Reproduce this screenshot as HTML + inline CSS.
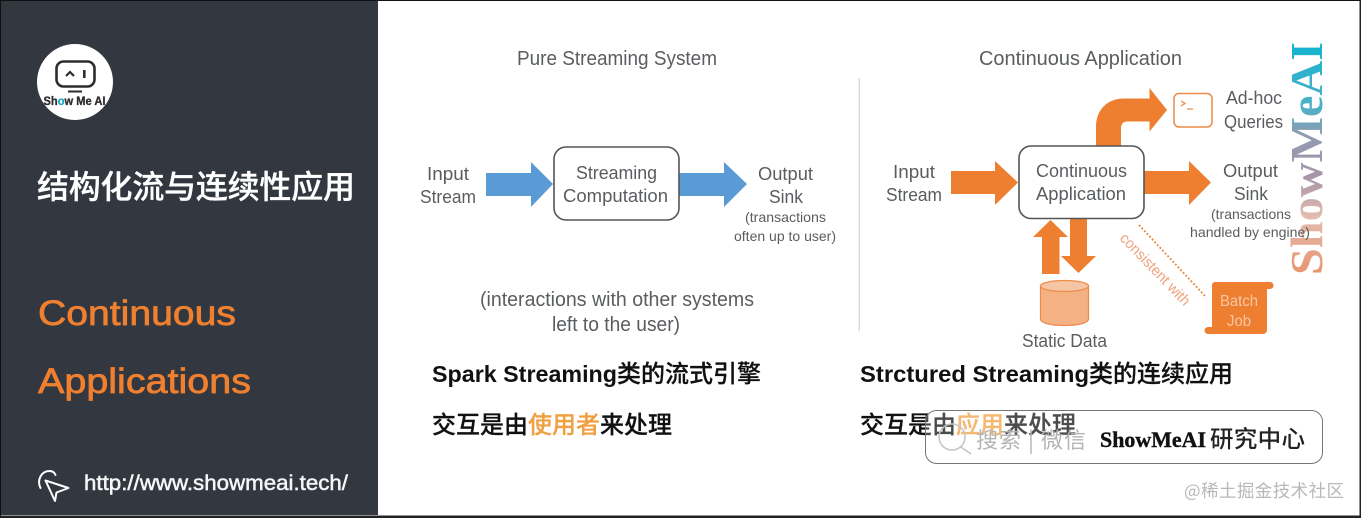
<!DOCTYPE html>
<html><head><meta charset="utf-8"><style>
html,body{margin:0;padding:0;background:#fff;width:1361px;height:518px;overflow:hidden}
svg{display:block;filter:blur(.35px)}
.d{font-family:"Liberation Sans",sans-serif;fill:#5a5d60}
.c{font-family:"Noto Sans CJK SC",sans-serif}
.b{font-family:"Liberation Sans","Noto Sans CJK SC",sans-serif;font-weight:700;fill:#111}
.k{font-family:"Noto Sans CJK SC",sans-serif;font-size:24px;fill:#111;font-weight:500;stroke:currentColor;stroke-width:.25}
.o{font-family:"Liberation Sans",sans-serif;font-size:35px;fill:#f0802f;stroke:#f0802f;stroke-width:.7}
</style></head><body>
<svg width="1361" height="518" viewBox="0 0 1361 518" xmlns="http://www.w3.org/2000/svg">
<defs><linearGradient id="wm" x1="0" y1="0" x2="233" y2="0" gradientUnits="userSpaceOnUse">
<stop offset="0" stop-color="#e8946c"/><stop offset=".25" stop-color="#e2bcae"/><stop offset=".42" stop-color="#a795a8"/><stop offset=".6" stop-color="#8f9bb0"/><stop offset=".72" stop-color="#4fb0c8"/><stop offset="1" stop-color="#12b4d0"/></linearGradient></defs>
<rect width="1361" height="518" fill="#fff"/>
<rect x="1" y="1" width="377" height="514" fill="#333840"/>
<rect x="0" y="0" width="1361" height="1" fill="#111"/>
<rect x="0" y="0" width="1" height="518" fill="#111"/>
<rect x="0" y="515.5" width="1361" height="2.5" fill="#222"/>
<rect x="1359.5" y="0" width="1.5" height="518" fill="#222"/>

<!-- logo -->
<circle cx="75" cy="82" r="38" fill="#fff"/>
<rect x="56.5" y="61.5" width="38" height="25" rx="7" fill="none" stroke="#2d2d2d" stroke-width="2.6"/>
<path d="M66 76l4-4 4 4" fill="none" stroke="#2d2d2d" stroke-width="2.2"/>
<rect x="83" y="70" width="2.6" height="8" fill="#2d2d2d"/>
<rect x="68" y="90.5" width="14" height="2" fill="#2d2d2d"/>
<text x="43.500" y="105" font-family="Liberation Sans" font-weight="700" font-size="11.500" fill="#2d2d2d" stroke="#2d2d2d" stroke-width=".3" textLength="62" lengthAdjust="spacingAndGlyphs">Sh<tspan fill="#19a7c4" stroke="#19a7c4">o</tspan>w Me AI</text>

<text x="37" y="198" class="c" font-size="32" font-weight="500" fill="#fff" stroke="#fff" stroke-width=".3" textLength="318">结构化流与连续性应用</text>
<text x="38" y="325" class="o" textLength="198" lengthAdjust="spacingAndGlyphs">Continuous</text>
<text x="38" y="393" class="o" textLength="213" lengthAdjust="spacingAndGlyphs">Applications</text>
<g fill="none" stroke="#fff" stroke-width="2" stroke-linejoin="round">
<path d="M45.500 480.500l23 7.500-12 4.500-1.500 8.500z"/>
<path d="M40.500 488c-4-8 1-17 9-17 3 0 5 1.500 6 4" stroke-linecap="round"/>
</g>
<text x="84" y="490" font-family="Liberation Sans" font-size="21" fill="#f4f6f8" stroke="#f4f6f8" stroke-width=".5" textLength="264" lengthAdjust="spacingAndGlyphs">http://www.showmeai.tech/</text>

<!-- left diagram -->
<text class="d" x="517" y="65" font-size="20" textLength="200" lengthAdjust="spacingAndGlyphs">Pure Streaming System</text>
<path d="M486 173h45v-11l22 22-22 23v-11h-45z" fill="#5b9bd5"/>
<path d="M678 173h46v-11l23 22-23 23v-11h-46z" fill="#5b9bd5"/>
<rect x="554" y="147" width="125" height="73" rx="12" fill="#fff" stroke="#555" stroke-width="1.6"/>
<text class="d" x="427" y="180" font-size="18" textLength="42" lengthAdjust="spacingAndGlyphs">Input</text>
<text class="d" x="420" y="203" font-size="18" textLength="56" lengthAdjust="spacingAndGlyphs">Stream</text>
<text class="d" x="576" y="179" font-size="18" textLength="81" lengthAdjust="spacingAndGlyphs">Streaming</text>
<text class="d" x="563" y="202" font-size="18" textLength="105" lengthAdjust="spacingAndGlyphs">Computation</text>
<text class="d" x="758" y="180" font-size="18" textLength="55" lengthAdjust="spacingAndGlyphs">Output</text>
<text class="d" x="769" y="203" font-size="18" textLength="34" lengthAdjust="spacingAndGlyphs">Sink</text>
<text class="d" x="745" y="222" font-size="14" textLength="81" lengthAdjust="spacingAndGlyphs">(transactions</text>
<text class="d" x="734" y="241" font-size="14" textLength="102" lengthAdjust="spacingAndGlyphs">often up to user)</text>
<text class="d" x="480" y="306" font-size="20" textLength="274" lengthAdjust="spacingAndGlyphs">(interactions with other systems</text>
<text class="d" x="552" y="331" font-size="20" textLength="128" lengthAdjust="spacingAndGlyphs">left to the user)</text>
<rect x="858.5" y="78" width="1.5" height="253" fill="#dcdcdc"/>

<!-- watermark -->
<text transform="translate(1322,275) rotate(-90)" font-family="Liberation Serif" font-weight="700" font-size="46" fill="url(#wm)" textLength="233" lengthAdjust="spacingAndGlyphs">ShowMeAI</text>

<!-- right diagram -->
<text class="d" x="979" y="65" font-size="20" textLength="203" lengthAdjust="spacingAndGlyphs">Continuous Application</text>
<g fill="#ee7f30">
<path d="M951 171h44v-10l23 21.500-23 22.500v-11h-44z"/>
<path d="M1143 171h46v-10l22 21.500-22 22.500v-11h-46z"/>
<path d="M1096 147v-20c0-17 11-28.500 28-28.500h25.500v-10.500l17.500 22-17.500 21.500v-10h-22c-5 0-6.500 3-6.500 7v19z"/>
<path d="M1042 274v-37h-9l17.500-17 17.500 17h-8.500v37z"/>
<path d="M1070 218h17v38h9l-17.500 17-17.500-17h9z"/>
</g>
<rect x="1019" y="146" width="125" height="72.500" rx="12" fill="#fff" stroke="#555" stroke-width="1.6"/>
<rect x="1174" y="93.500" width="38" height="33.500" rx="5" fill="#fff" stroke="#ee8a4a" stroke-width="1.5"/>
<path d="M1181 101l4 2.500-4 2.500M1187 109h6" fill="none" stroke="#ee8a4a" stroke-width="1.3"/>
<text class="d" x="893" y="178" font-size="18" textLength="42" lengthAdjust="spacingAndGlyphs">Input</text>
<text class="d" x="886" y="201" font-size="18" textLength="56" lengthAdjust="spacingAndGlyphs">Stream</text>
<text class="d" x="1036" y="177" font-size="18" textLength="91" lengthAdjust="spacingAndGlyphs">Continuous</text>
<text class="d" x="1036" y="200" font-size="18" textLength="90" lengthAdjust="spacingAndGlyphs">Application</text>
<text class="d" x="1226" y="104" font-size="18" textLength="56" lengthAdjust="spacingAndGlyphs">Ad-hoc</text>
<text class="d" x="1224" y="128" font-size="18" textLength="59" lengthAdjust="spacingAndGlyphs">Queries</text>
<text class="d" x="1223" y="177" font-size="18" textLength="55" lengthAdjust="spacingAndGlyphs">Output</text>
<text class="d" x="1234" y="200" font-size="18" textLength="34" lengthAdjust="spacingAndGlyphs">Sink</text>
<text class="d" x="1211" y="219" font-size="14" textLength="80" lengthAdjust="spacingAndGlyphs">(transactions</text>
<text class="d" x="1190" y="237" font-size="14" textLength="120" lengthAdjust="spacingAndGlyphs">handled by engine)</text>
<!-- cylinder -->
<path d="M1040.500 286v33c0 4 11 6.500 24 6.500s24-2.500 24-6.500v-33z" fill="#f4b183" stroke="#ee8a4a" stroke-width="1.2"/>
<ellipse cx="1064.500" cy="286" rx="24" ry="5.500" fill="#f6c5a3" stroke="#ee8a4a" stroke-width="1.2"/>
<text class="d" x="1022" y="347" font-size="18" textLength="85" lengthAdjust="spacingAndGlyphs">Static Data</text>
<!-- dotted -->
<path d="M1139 225L1205 296" stroke="#ee7f30" stroke-width="1.8" stroke-dasharray="1.8 2" fill="none"/>
<text transform="translate(1119,239) rotate(46)" font-family="Liberation Sans" font-size="15" fill="#f0a27a" textLength="94" lengthAdjust="spacingAndGlyphs">consistent with</text>
<!-- batch job -->
<path d="M1215 282h55a3.500 3.500 0 0 1 0 7h-3v41a4 4 0 0 1-4 4h-55a3.500 3.500 0 0 1 0-7h4v-42a3 3 0 0 1 3-3z" fill="#ee7f30"/>
<text x="1220" y="306" font-family="Liberation Sans" font-size="15.500" fill="#f8c6a2" textLength="38" lengthAdjust="spacingAndGlyphs">Batch</text>
<text x="1227" y="326" font-family="Liberation Sans" font-size="15.500" fill="#f8c6a2" textLength="24" lengthAdjust="spacingAndGlyphs">Job</text>

<!-- captions -->
<text class="b" x="432" y="382" font-size="23" textLength="185" lengthAdjust="spacingAndGlyphs">Spark Streaming</text>
<text class="k" x="617" y="382" color="#111" textLength="144">类的流式引擎</text>
<text class="k" x="432" y="433" color="#111">交互是由<tspan fill="#f0a040" stroke="#f0a040">使用者</tspan>来处理</text>
<text class="b" x="860" y="382" font-size="23" textLength="229" lengthAdjust="spacingAndGlyphs">Strctured Streaming</text>
<text class="k" x="1089" y="382" color="#111" textLength="144">类的连续应用</text>
<text class="k" x="860" y="433" color="#111">交互是由<tspan fill="#f0a040" stroke="#f0a040">应用</tspan>来处理</text>

<!-- search box -->
<rect x="925.500" y="410.500" width="397" height="53" rx="11" fill="#fff" fill-opacity=".25" stroke="#777" stroke-width="1"/>
<circle cx="952" cy="437" r="13" fill="none" stroke="#c4c4c4" stroke-width="1.5"/>
<path d="M961 447l10 7" stroke="#c4c4c4" stroke-width="1.5"/>
<text x="976" y="448" class="c" font-size="22" fill="#b4b4b4" textLength="110">搜索 | 微信</text>
<text x="1100" y="447" font-family="Liberation Serif" font-weight="700" font-size="22" fill="#111" stroke="#111" stroke-width=".4" textLength="106" lengthAdjust="spacingAndGlyphs">ShowMeAI</text>
<text x="1210" y="447" class="c" font-size="23.500" font-weight="500" fill="#222" textLength="95">研究中心</text>
<text x="1184" y="497" class="c" font-size="17.500" fill="#b8b8b8" textLength="160">@稀土掘金技术社区</text>
</svg>
</body></html>
